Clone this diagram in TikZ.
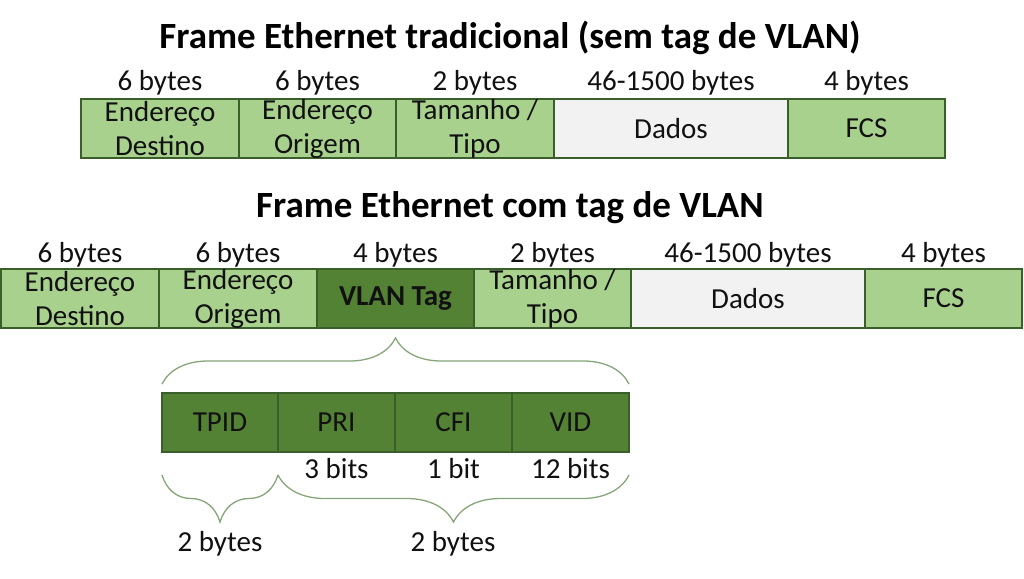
\documentclass[tikz,border=0pt]{standalone}
\usepackage{fontspec}
\setmainfont{Carlito}
\usetikzlibrary{decorations.pathreplacing,calc}
\definecolor{lgreen}{HTML}{A9D18E}
\definecolor{dgreen}{HTML}{548235}
\definecolor{bord}{HTML}{3A5F2A}
\definecolor{lgray}{HTML}{F2F2F2}
\definecolor{bracec}{HTML}{86A67A}
\definecolor{txt}{HTML}{111111}
\begin{document}
\begin{tikzpicture}[x=1pt,y=-1pt,
  box/.style={draw=bord,line width=1.6pt,minimum height=59pt,inner sep=0pt,outer sep=0pt,anchor=north west},
  lg/.style={box,fill=lgreen},
  dg/.style={box,fill=dgreen},
  gy/.style={box,fill=lgray},
  lbl/.style={align=center,inner sep=0pt,text=txt,font=\fontsize{29}{34}\selectfont},
  blbl/.style={lbl,font=\fontsize{29}{34}\selectfont\bfseries},
  ttl/.style={inner sep=0pt,text=black,font=\fontsize{37}{42}\selectfont\bfseries},
  brc/.style={draw=bracec,line width=1.3pt,decorate},
]
\useasboundingbox[fill=white] (0,0) rectangle (1024,578);

% Title 1
\node[ttl] (title1) at (510,38) {Frame Ethernet tradicional (sem tag de VLAN)};

% Top frame
\node[lg,minimum width=158pt] (a1) at (81,99) {};
\node[lg,minimum width=157pt] (a2) at (239,99) {};
\node[lg,minimum width=158pt] (a3) at (396,99) {};
\node[gy,minimum width=234pt] (a4) at (554,99) {};
\node[lg,minimum width=157pt] (a5) at (788,99) {};
\node[lbl] at (a1) {Endereço\\Destino};
\node[lbl] at (a2) {Endereço\\Origem};
\node[lbl] at (a3) {Tamanho /\\Tipo};
\node[lbl] at (a4) {Dados};
\node[lbl] at (a5) {FCS};
\foreach \n/\t in {a1/6 bytes,a2/6 bytes,a3/2 bytes,a4/46-1500 bytes,a5/4 bytes}
  \node[lbl] at ($(\n.north)+(0,-16)$) {\t};

% Title 2
\node[ttl] (title2) at (510,208) {Frame Ethernet com tag de VLAN};

% Bottom frame
\node[lg,minimum width=158pt] (b1) at (1,269) {};
\node[lg,minimum width=158pt] (b2) at (159,269) {};
\node[dg,minimum width=157pt] (b3) at (317,269) {};
\node[lg,minimum width=157pt] (b4) at (474,269) {};
\node[gy,minimum width=234pt] (b5) at (631,269) {};
\node[lg,minimum width=157pt] (b6) at (865,269) {};
\node[lbl] at (b1) {Endereço\\Destino};
\node[lbl] at (b2) {Endereço\\Origem};
\node[blbl] at (b3) {VLAN Tag};
\node[lbl] at (b4) {Tamanho /\\Tipo};
\node[lbl] at (b5) {Dados};
\node[lbl] at (b6) {FCS};
\foreach \n/\t in {b1/6 bytes,b2/6 bytes,b3/4 bytes,b4/2 bytes,b5/46-1500 bytes,b6/4 bytes}
  \node[lbl] at ($(\n.north)+(0,-14.5)$) {\t};

% VLAN tag detail
\node[dg,minimum width=116pt] (t1) at (162,393) {};
\node[dg,minimum width=117pt] (t2) at (278,393) {};
\node[dg,minimum width=117pt] (t3) at (395,393) {};
\node[dg,minimum width=117pt] (t4) at (512,393) {};
\node[lbl] at (t1) {TPID};
\node[lbl] at (t2) {PRI};
\node[lbl] at (t3) {CFI};
\node[lbl] at (t4) {VID};
\node[lbl] at ($(t2.south)+(0,17)$) {3 bits};
\node[lbl] at ($(t3.south)+(0,17)$) {1 bit};
\node[lbl] at ($(t4.south)+(0,17)$) {12 bits};

% Braces
\draw[brc,decoration={brace,amplitude=46pt}] ([yshift=9pt]t1.north west) -- ([yshift=9pt]t4.north east);
\draw[brc,decoration={brace,amplitude=47pt}] ([yshift=-23pt]t1.south east) -- ([yshift=-23pt]t1.south west);
\draw[brc,decoration={brace,amplitude=47pt}] ([yshift=-23pt]t4.south east) -- ([yshift=-23pt]t2.south west);
\node[lbl] at (220,544) {2 bytes};
\node[lbl] at (453,544) {2 bytes};
\end{tikzpicture}
\end{document}
